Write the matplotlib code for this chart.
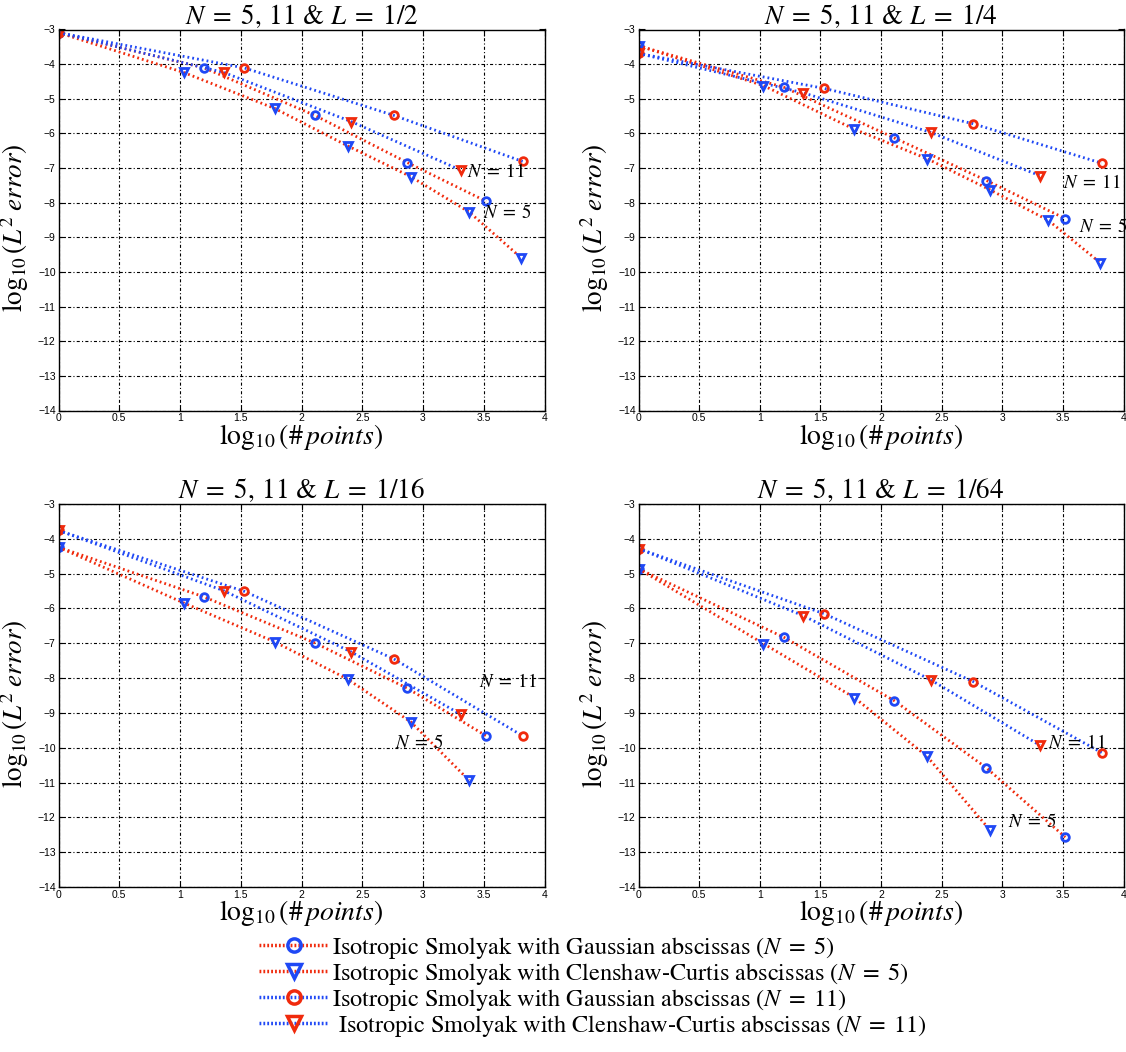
import matplotlib
matplotlib.use('Agg')
from matplotlib import pyplot as plt
from matplotlib.lines import Line2D

plt.rcParams['font.family'] = ['STIXGeneral', 'DejaVu Serif']
plt.rcParams['mathtext.fontset'] = 'stix'
plt.rcParams['lines.scale_dashes'] = False

RED = '#f02a0c'
BLUE = '#1f48f5'

# log10(#points) for each scheme
x_gauss_n5 = [0, 1.20, 2.11, 2.87, 3.52]
x_cc_n5 = [0, 1.03, 1.78, 2.38, 2.90, 3.38, 3.81]
x_gauss_n11 = [0, 1.53, 2.76, 3.82]
x_cc_n11 = [0, 1.36, 2.41, 3.31]

# log10(L2 error), one list per panel and scheme
titles = [r'$N\;=\;5,\,11$ & $L\;=\;1/2$', r'$N\;=\;5,\,11$ & $L\;=\;1/4$',
          r'$N\;=\;5,\,11$ & $L\;=\;1/16$', r'$N\;=\;5,\,11$ & $L\;=\;1/64$']
y_gauss_n5 = [[-3.09, -4.11, -5.48, -6.84, -7.96],
              [-3.47, -4.67, -6.13, -7.36, -8.46],
              [-4.24, -5.67, -6.99, -8.29, -9.66],
              [-4.86, -6.83, -8.65, -10.58, -12.57]]
y_cc_n5 = [[-3.09, -4.24, -5.28, -6.36, -7.25, -8.27, -9.60],
           [-3.47, -4.62, -5.88, -6.73, -7.63, -8.51, -9.74],
           [-4.24, -5.84, -6.96, -8.03, -9.26, -10.94],
           [-4.86, -7.01, -8.56, -10.25, -12.37]]
y_gauss_n11 = [[-3.09, -4.11, -5.48, -6.81],
               [-3.69, -4.70, -5.72, -6.86],
               [-3.76, -5.51, -7.45, -9.66],
               [-4.28, -6.15, -8.10, -10.14]]
y_cc_n11 = [[-3.09, -4.24, -5.66, -7.06],
            [-3.69, -4.83, -5.97, -7.22],
            [-3.76, -5.49, -7.25, -9.04],
            [-4.28, -6.21, -8.05, -9.93]]

# where the "N = 11" / "N = 5" notes sit in each panel
note_n11 = [(3.36, -7.1), (3.50, -7.44), (3.46, -8.12), (3.38, -9.85)]
note_n5 = [(3.49, -8.31), (3.63, -8.69), (2.77, -9.86), (3.05, -12.13)]

labels = [r'Isotropic Smolyak with Gaussian abscissas ($N\;=\;5$)',
          r'Isotropic Smolyak with Clenshaw-Curtis abscissas ($N\;=\;5$)',
          r'Isotropic Smolyak with Gaussian abscissas ($N\;=\;11$)',
          r' Isotropic Smolyak with Clenshaw-Curtis abscissas ($N\;=\;11$)']

fig = plt.figure(figsize=(11.26, 10.52), dpi=100)
W, H = 1126.0, 1052.0
boxes = [(58.5, 29.5, 486, 381), (638.5, 29.5, 485, 381),
         (58.5, 504, 486, 383), (638.5, 504, 485, 383)]

styles = [dict(color=RED, marker='o', mec=BLUE),
          dict(color=RED, marker='v', mec=BLUE),
          dict(color=BLUE, marker='o', mec=RED),
          dict(color=BLUE, marker='v', mec=RED)]

for i, (px, py, pw, ph) in enumerate(boxes):
    ax = fig.add_axes([px / W, 1 - (py + ph) / H, pw / W, ph / H])
    series = [(x_gauss_n5, y_gauss_n5[i]), (x_cc_n5, y_cc_n5[i]),
              (x_gauss_n11, y_gauss_n11[i]), (x_cc_n11, y_cc_n11[i])]
    for (xs, ys), st in zip(series, styles):
        ax.plot(xs[:len(ys)], ys, linestyle=(0, (1.3, 2.2)), lw=2.0,
                marker=st['marker'], mec=st['mec'], mfc='none', mew=2.0,
                ms=5.5, color=st['color'])
    ax.set_xlim(0, 4)
    ax.set_ylim(-14, -3)
    ax.set_xticks([0, 0.5, 1, 1.5, 2, 2.5, 3, 3.5, 4])
    ax.set_xticklabels(['0', '0.5', '1', '1.5', '2', '2.5', '3', '3.5', '4'])
    ax.set_yticks(range(-14, -2))
    ax.tick_params(direction='in', length=4, width=0.8, top=True, right=True,
                   labelsize=7.5, pad=2)
    for lab in ax.get_xticklabels() + ax.get_yticklabels():
        lab.set_fontfamily('Liberation Sans')
    ax.grid(True, color='black', lw=0.8, linestyle=(0, (2.2, 1.6, 0.8, 1.6)))
    for sp in ax.spines.values():
        sp.set_linewidth(1.0)
    ax.set_title(titles[i], fontsize=19.5, pad=4)
    ax.set_xlabel(r'$\log_{10}($#$\,points)$', fontsize=20, labelpad=-1)
    ax.set_ylabel(r'$\log_{10}(L^2\;error)$', fontsize=19.5, labelpad=1)
    ax.yaxis.set_label_coords(-0.057, 0.48)
    ax.text(note_n11[i][0], note_n11[i][1], r'$N\;=\;11$', fontsize=13.5,
            ha='left', va='center', clip_on=False)
    ax.text(note_n5[i][0], note_n5[i][1], r'$N\;=\;5$', fontsize=13.5,
            ha='left', va='center', clip_on=False)

handles = [Line2D([], [], linestyle=(0, (1.3, 1.5)), lw=2.5, color=st['color'],
                  marker=st['marker'], mec=st['mec'], mfc='none', mew=2.5,
                  ms=9.5) for st in styles]
fig.legend(handles, labels, loc='upper left',
           bbox_to_anchor=(259 / W, 1 - 935 / H), frameon=False,
           fontsize=17.5, handlelength=2.9, handletextpad=0.12,
           labelspacing=0.0, borderaxespad=0, borderpad=0)

fig.savefig('out.png', dpi=100)
